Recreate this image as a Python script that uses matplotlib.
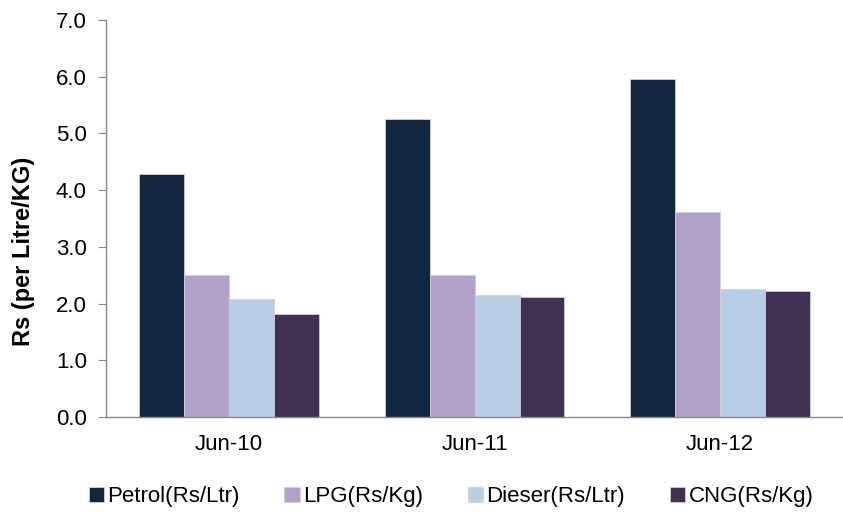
import matplotlib.pyplot as plt
import numpy as np

plt.rcParams['font.family'] = ['Liberation Sans', 'DejaVu Sans']

categories = ['Jun-10', 'Jun-11', 'Jun-12']
series = ['Petrol(Rs/Ltr)', 'LPG(Rs/Kg)', 'Dieser(Rs/Ltr)', 'CNG(Rs/Kg)']
values = {
    'Petrol(Rs/Ltr)': [4.29, 5.26, 5.96],
    'LPG(Rs/Kg)': [2.50, 2.50, 3.62],
    'Dieser(Rs/Ltr)': [2.08, 2.15, 2.26],
    'CNG(Rs/Kg)': [1.82, 2.12, 2.22],
}
colors = ['#12263F', '#B2A2C7', '#B9CDE5', '#403152']

fig = plt.figure(figsize=(8.43, 5.12), dpi=100)
ax = fig.add_axes([0.126, 0.1855, 0.874, 0.7755])

x = np.arange(len(categories))
w = 0.183
for i, (name, c) in enumerate(zip(series, colors)):
    ax.bar(x + (i - 1.5) * w, values[name], w, color=c, label=name,
           edgecolor='#d0d0d8', linewidth=0.6)

ax.set_xlim(-0.5, 2.5)
ax.set_ylim(0, 7)
yt = np.arange(0, 7.01, 1.0)
ax.set_yticks(yt)
ax.set_yticklabels([f'{v:.1f}' for v in yt])
ax.set_xticks(x)
ax.set_xticklabels(categories)
ax.tick_params(axis='y', labelsize=16, length=6, color='#888888', direction='out', pad=8)
ax.tick_params(axis='x', labelsize=16, length=0, pad=12)
ax.set_ylabel('Rs (per Litre/KG)', fontsize=17, fontweight='bold')
# label sits a bit below the axis centre in the reference
ax.yaxis.set_label_coords(-0.096, 0.416)

for s in ['top', 'right']:
    ax.spines[s].set_visible(False)
for s in ['left', 'bottom']:
    ax.spines[s].set_color('#888888')
    ax.spines[s].set_linewidth(1.0)

ax.legend(loc='center', bbox_to_anchor=(0.535, 0.03), bbox_transform=fig.transFigure,
          ncol=4, frameon=False, fontsize=16,
          handlelength=0.7, handleheight=0.7, handletextpad=0.15,
          columnspacing=2.0)

fig.savefig('out.png', dpi=100)
